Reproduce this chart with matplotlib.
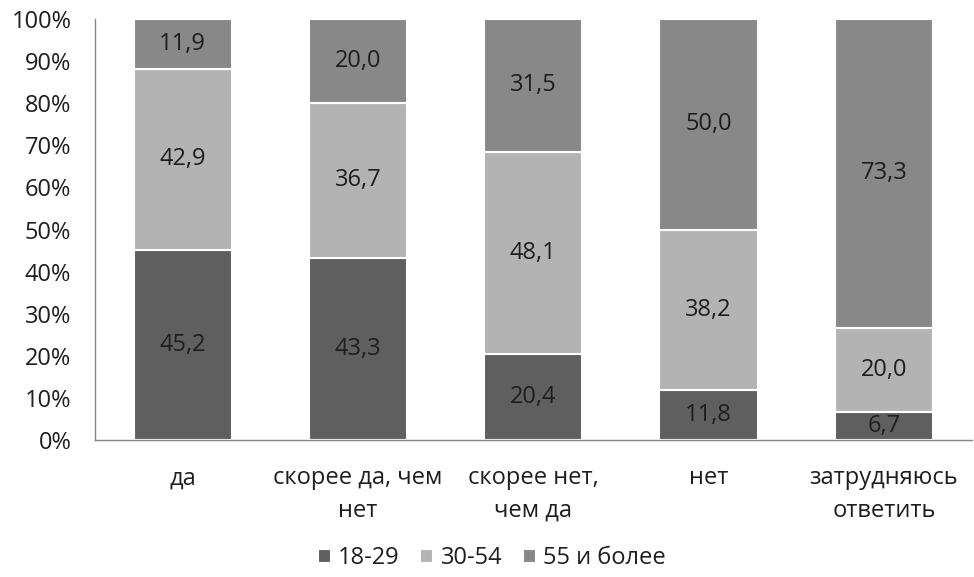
import matplotlib.pyplot as plt
import numpy as np
from matplotlib.ticker import PercentFormatter

plt.rcParams["font.family"] = ["Open Sans", "DejaVu Sans"]

categories = ["да", "скорее да, чем\nнет", "скорее нет,\nчем да", "нет", "затрудняюсь\nответить"]
series_names = ["18-29", "30-54", "55 и более"]
age_18_29 = [45.2, 43.3, 20.4, 11.8, 6.7]
age_30_54 = [42.9, 36.7, 48.1, 38.2, 20.0]
age_55_plus = [11.9, 20.0, 31.5, 50.0, 73.3]
colors = ["#5f5f5f", "#b3b3b3", "#888888"]

fig = plt.figure(figsize=(9.74, 5.77), dpi=100)
ax = fig.add_axes([0.0975, 0.2374, 0.9, 0.7296])

x = np.arange(len(categories))
data = [age_18_29, age_30_54, age_55_plus]
totals = np.sum(data, axis=0)
bottom = np.zeros(len(categories))
for vals, name, c in zip(data, series_names, colors):
    share = np.array(vals) / totals
    ax.bar(x, share, 0.56, bottom=bottom, color=c, edgecolor="white",
           linewidth=1.5, label=name)
    for xi, b, s, v in zip(x, bottom, share, vals):
        ax.text(xi, b + s / 2, f"{v:.1f}".replace(".", ","), ha="center",
                va="center", fontsize=17, color="#1e1e1e")
    bottom += share

ax.set_xlim(-0.5, len(categories) - 0.5)
ax.set_ylim(0, 1)
ax.set_yticks(np.arange(0, 1.01, 0.1))
ax.yaxis.set_major_formatter(PercentFormatter(1.0, decimals=0))
ax.set_xticks(x)
ax.set_xticklabels(categories, fontsize=17, color="#1e1e1e", linespacing=1.45)
ax.tick_params(axis="y", labelsize=17, labelcolor="#1e1e1e", length=0, pad=17)
ax.tick_params(axis="x", length=0, pad=19)

for side in ["top", "right"]:
    ax.spines[side].set_visible(False)
for side in ["left", "bottom"]:
    ax.spines[side].set_color("#868686")
    ax.spines[side].set_linewidth(1.0)

fig.legend(loc="lower center", bbox_to_anchor=(0.505, -0.025), ncol=3, frameon=False,
           fontsize=17, handlelength=0.55, handleheight=0.55, handletextpad=0.3,
           columnspacing=0.9, labelcolor="#1e1e1e")

fig.savefig("out.png", dpi=100)
